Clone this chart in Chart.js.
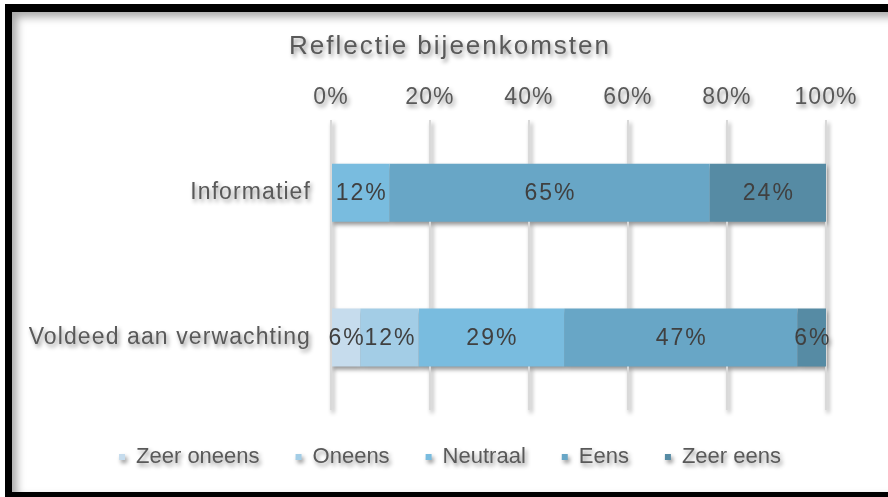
<!DOCTYPE html>
<html>
<head>
<meta charset="utf-8">
<title>Reflectie bijeenkomsten</title>
<script src="https://cdn.jsdelivr.net/npm/chart.js@4.4.1/dist/chart.umd.min.js"></script>
<style>
    html, body { margin: 0; padding: 0; background: #fff; overflow: hidden; width: 888px; height: 497px; }
    /* zwarte lijst met schaduw aan de binnenkant */
    #frame {
        position: absolute; left: 5px; top: 4px; width: 900px; height: 480px;
        background: #fff;
        border-top: 8px solid #000; border-left: 7px solid #000; border-bottom: 5px solid #000;
        box-shadow: inset 5px 5px 8px rgba(0,0,0,0.35);
    }
    #reflectieChart {
        position: absolute; left: 0; top: 0;
        filter: drop-shadow(2px 3px 2px rgba(0,0,0,0.42));
    }
</style>
</head>
<body>
<div id="frame"></div>
<canvas id="reflectieChart" width="888" height="497"></canvas>
<script>
// Data (aantal antwoorden omgerekend naar procenten)
const categories = ['Informatief', 'Voldeed aan verwachting'];
const seriesNames = ['Zeer oneens', 'Oneens', 'Neutraal', 'Eens', 'Zeer eens'];
const zeerOneens = [0, 5.9];
const oneens = [0, 11.8];
const neutraal = [11.8, 29.4];
const eens = [64.7, 47.1];
const zeerEens = [23.5, 5.9];
const seriesColors = ['#c6dced', '#a3cde6', '#79bcdf', '#68a6c6', '#568ba4'];
const tickStep = 20;

const FONT = '"Liberation Sans", Arial, sans-serif';
const TEXT_GREY = '#595959';

// Excel tekent de tekst wat breder: letterafstand per onderdeel
const letterSpacing = {
    id: 'letterSpacing',
    afterInit(chart) {
        const wrap = (box, spacing) => {
            const orig = box.draw.bind(box);
            box.draw = function(area) {
                const ctx = this.ctx;
                const prev = ctx.letterSpacing;
                ctx.letterSpacing = spacing;
                orig(area);
                ctx.letterSpacing = prev;
            };
        };
        if (chart.titleBlock) wrap(chart.titleBlock, '2px');
        if (chart.legend) wrap(chart.legend, '0px');
    },
    beforeDraw(chart) {
        chart.ctx.letterSpacing = '1.1px';
    }
};

// Labels in de balkstukken
const segmentLabels = {
    id: 'segmentLabels',
    afterDatasetsDraw(chart) {
        const ctx = chart.ctx;
        ctx.save();
        ctx.font = '23px ' + FONT;
        ctx.letterSpacing = '2px';
        ctx.fillStyle = '#404040';
        ctx.textAlign = 'center';
        ctx.textBaseline = 'middle';
        chart.data.datasets.forEach((ds, i) => {
            chart.getDatasetMeta(i).data.forEach((bar, j) => {
                const v = ds.data[j];
                if (!v) return;
                const p = bar.getProps(['x', 'y', 'base'], true);
                ctx.fillText(Math.round(v) + '%', (p.x + p.base) / 2 + 1, p.y + 1);
            });
        });
        ctx.restore();
    }
};

const allSeries = [zeerOneens, oneens, neutraal, eens, zeerEens];

new Chart(document.getElementById('reflectieChart'), {
    type: 'bar',
    data: {
        labels: categories,
        datasets: allSeries.map((vals, i) => ({
            label: seriesNames[i],
            data: vals,
            backgroundColor: seriesColors[i],
            borderWidth: 0,
            barPercentage: 0.4,
            categoryPercentage: 1
        }))
    },
    options: {
        indexAxis: 'y',
        responsive: false,
        animation: false,
        layout: { padding: { top: 20, left: 12, right: 0, bottom: 19 } },
        plugins: {
            title: {
                display: true,
                text: 'Reflectie bijeenkomsten',
                color: TEXT_GREY,
                font: { family: FONT, size: 26, weight: 'normal' },
                padding: { top: 11, bottom: 8 }
            },
            legend: {
                position: 'bottom',
                labels: {
                    color: TEXT_GREY,
                    font: { family: FONT, size: 22 },
                    boxWidth: 6,
                    boxHeight: 6,
                    padding: 36
                }
            },
            tooltip: { enabled: false }
        },
        scales: {
            x: {
                position: 'top',
                stacked: true,
                min: 0,
                max: 100,
                ticks: {
                    stepSize: tickStep,
                    color: TEXT_GREY,
                    font: { family: FONT, size: 23 },
                    padding: 9,
                    callback: (v) => v + '%'
                },
                grid: { color: '#d9d9d9', lineWidth: 2, drawTicks: false },
                border: { display: false },
                afterFit: (scale) => { scale.height = 50; }
            },
            y: {
                stacked: true,
                ticks: {
                    color: TEXT_GREY,
                    font: { family: FONT, size: 23 },
                    padding: 20
                },
                grid: { display: false, drawTicks: false },
                border: { display: false },
                afterFit: (scale) => { scale.width = 319; }
            },
            // lege rechterkant zodat titel en legenda midden op de plaat staan
            yRight: {
                type: 'category',
                axis: 'y',
                position: 'right',
                ticks: { display: false },
                grid: { display: false, drawTicks: false },
                border: { display: false },
                afterFit: (scale) => { scale.width = 62; }
            }
        }
    },
    plugins: [letterSpacing, segmentLabels]
});
</script>
</body>
</html>
